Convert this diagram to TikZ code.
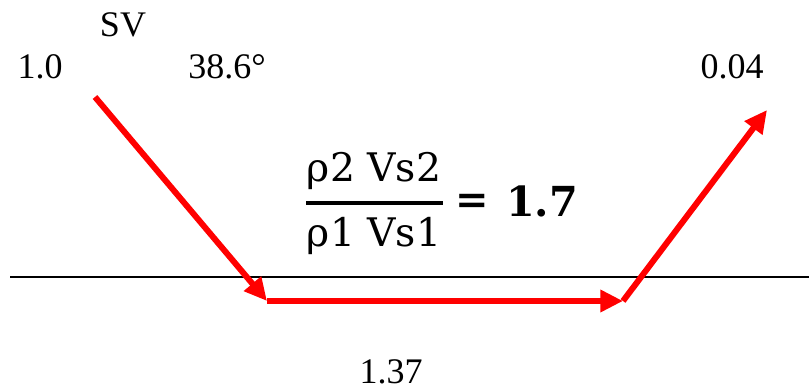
\documentclass[tikz,border=0pt]{standalone}
\usepackage{fontspec}
\setmainfont{Liberation Serif}
\newfontfamily\fracfont{DejaVu Serif}
\usetikzlibrary{arrows.meta}

\begin{document}
\begin{tikzpicture}[x=0.75pt,y=-0.75pt,
  ray/.style={draw=red,line width=4.5pt,-{Triangle[length=17pt,width=16pt]}},
  lbl/.style={inner sep=0pt,font=\fontsize{27}{32}\selectfont},
  frac/.style={inner sep=0pt,anchor=base,font=\fracfont\fontsize{29.5}{34}\selectfont}]
\useasboundingbox (0,0) rectangle (809,391);
% interface and ray corners
\coordinate (lft) at (10,277);
\coordinate (rgt) at (809,277);
\coordinate (src) at (95,97);
\coordinate (hitA) at (267,301);
\coordinate (hitB) at (623,301);
\coordinate (out) at (767,110);
\draw[line width=1.1pt] (lft) -- (rgt);
\draw[ray] (src) -- (hitA);
\draw[ray] (hitA) -- (hitB);
\draw[ray] (hitB) -- (out);
% labels
\node[lbl] (sv) at (123,25) {SV};
\node[lbl] (amp) at (40,67) {1.0};
\node[lbl] (ang) at (227,67) {38.6°};
\node[lbl] (tamp) at (732,67) {0.04};
\node[lbl] (ramp) at (391,372) {1.37};
% impedance ratio
\coordinate (barl) at (306,203);
\coordinate (barr) at (443,203);
\node[frac] (num) at (374,182) {ρ2 Vs2};
\node[frac] (den) at (374,247) {ρ1 Vs1};
\draw[line width=2.4pt] (barl) -- (barr);
\node[frac,anchor=center,font=\fracfont\bfseries\fontsize{30}{34}\selectfont] (eq) at (472,204) {=};
\node[frac,anchor=center,font=\fracfont\bfseries\fontsize{31}{36}\selectfont] (val) at (542,201) {1.7};
\end{tikzpicture}
\end{document}
